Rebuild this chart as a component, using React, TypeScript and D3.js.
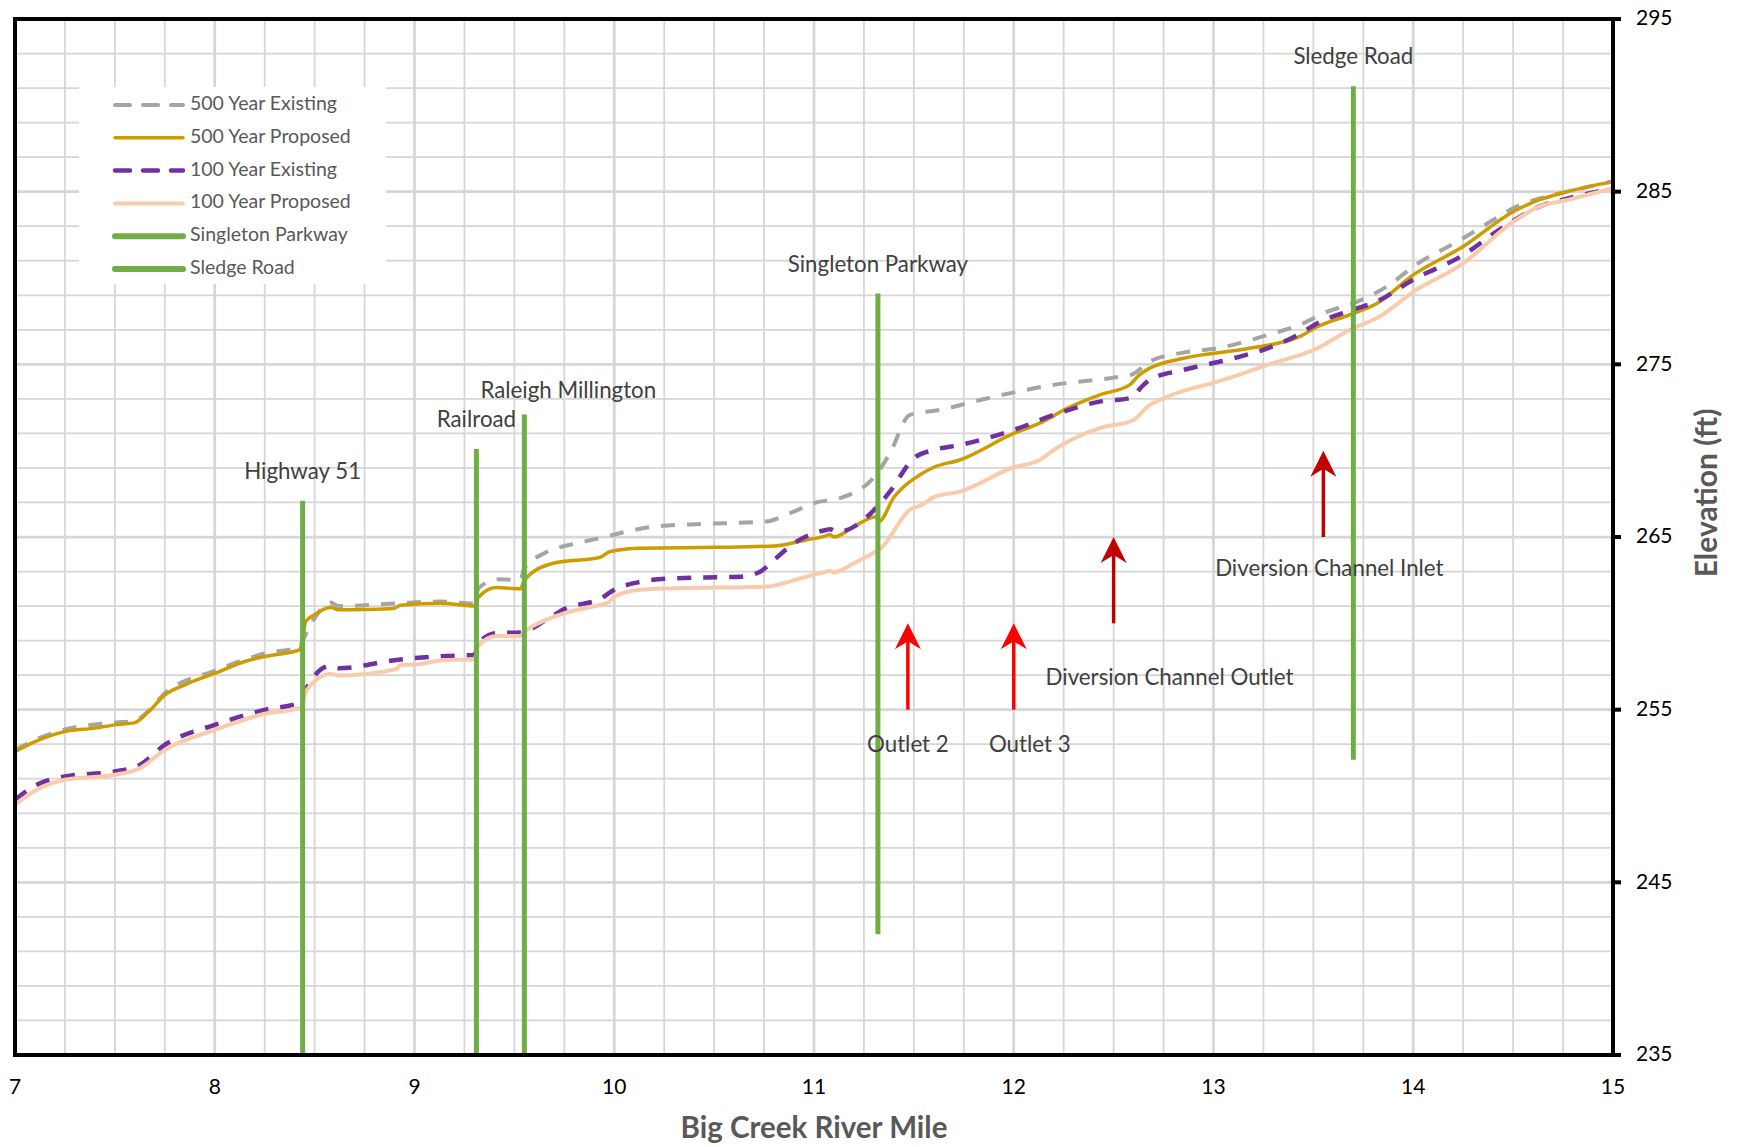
import React from "react";
import * as d3 from "d3";

// river mile vs water surface elevation (ft)
const ex500: [number, number][] = [
  [7.0, 252.65], [7.1, 253.25], [7.25, 253.85], [7.5, 254.25], [7.6, 254.35], [7.67, 254.95],
  [7.75, 255.95], [8.0, 257.25], [8.25, 258.25], [8.425, 258.65], [8.44, 259.0], [8.5, 260.3],
  [8.58, 261.2], [8.62, 261.0], [8.9, 261.15], [9.13, 261.26], [9.3, 261.15], [9.32, 262.03],
  [9.42, 262.55], [9.53, 262.5], [9.55, 263.2], [9.65, 264.06], [9.795, 264.6], [9.93, 264.93],
  [10.06, 265.31], [10.2, 265.6], [10.46, 265.76], [10.76, 265.9], [10.88, 266.38], [11.01, 267.0],
  [11.13, 267.25], [11.31, 268.6], [11.38, 269.85], [11.48, 272.07], [11.63, 272.36], [11.87, 273.04],
  [12.2, 273.81], [12.48, 274.2], [12.59, 274.4], [12.68, 275.16], [12.85, 275.68], [13.02, 275.93],
  [13.27, 276.7], [13.43, 277.28], [13.57, 278.05], [13.72, 278.63], [13.88, 279.6], [14.0, 280.66],
  [14.25, 282.3], [14.4, 283.36], [14.5, 284.04], [14.63, 284.6], [14.77, 285.0], [15.0, 285.6],
];

const prop500: [number, number][] = [
  [7.0, 252.57], [7.1, 253.15], [7.25, 253.73], [7.4, 253.93], [7.5, 254.12], [7.6, 254.25],
  [7.67, 254.89], [7.75, 255.86], [7.85, 256.44], [8.0, 257.1], [8.15, 257.79], [8.25, 258.08],
  [8.35, 258.27], [8.425, 258.46], [8.44, 259.1], [8.455, 260.1], [8.5, 260.5], [8.58, 260.93],
  [8.62, 260.78], [8.75, 260.8], [8.9, 260.88], [8.93, 261.05], [9.13, 261.17], [9.3, 261.0],
  [9.32, 261.5], [9.41, 262.07], [9.53, 262.0], [9.55, 262.5], [9.695, 263.48], [9.93, 263.83],
  [9.98, 264.16], [10.13, 264.35], [10.5, 264.4], [10.8, 264.48], [10.96, 264.83], [11.06, 265.06],
  [11.08, 265.15], [11.1, 265.0], [11.2, 265.6], [11.31, 266.18], [11.325, 265.9], [11.4, 267.3],
  [11.48, 268.21], [11.53, 268.6], [11.6, 269.04], [11.73, 269.46], [12.0, 271.0], [12.13, 271.59],
  [12.27, 272.46], [12.43, 273.23], [12.58, 273.81], [12.63, 274.4], [12.68, 274.77], [12.85, 275.35],
  [13.18, 275.93], [13.43, 276.6], [13.52, 277.18], [13.68, 277.86], [13.82, 278.54], [14.0, 280.18],
  [14.25, 281.82], [14.5, 283.84], [14.63, 284.52], [14.77, 285.0], [15.0, 285.58],
];

const ex100: [number, number][] = [
  [7.0, 249.78], [7.1, 250.6], [7.25, 251.13], [7.5, 251.42], [7.625, 251.8], [7.75, 252.96],
  [8.0, 254.12], [8.25, 254.99], [8.425, 255.41], [8.44, 255.6], [8.455, 256.15], [8.58, 257.54],
  [8.62, 257.4], [8.91, 257.88], [9.13, 258.1], [9.3, 258.17], [9.32, 258.85], [9.41, 259.43],
  [9.53, 259.47], [9.66, 260.2], [9.76, 260.88], [9.93, 261.42], [10.0, 261.94], [10.13, 262.4],
  [10.3, 262.61], [10.63, 262.7], [10.73, 262.99], [10.8, 263.67], [10.9, 264.64], [11.06, 265.41],
  [11.08, 265.45], [11.12, 265.3], [11.31, 266.67], [11.38, 267.63], [11.5, 269.56], [11.6, 270.04],
  [11.73, 270.33], [12.0, 271.2], [12.2, 272.07], [12.43, 272.84], [12.58, 273.04], [12.65, 273.81],
  [12.68, 274.1], [12.85, 274.68], [13.1, 275.35], [13.27, 275.93], [13.43, 276.75], [13.52, 277.38],
  [13.68, 278.1], [13.82, 278.65], [14.0, 279.9], [14.25, 281.33], [14.43, 282.78], [14.63, 284.13],
  [14.77, 284.6], [15.0, 285.2],
];

const prop100: [number, number][] = [
  [7.0, 249.49], [7.1, 250.3], [7.25, 250.94], [7.5, 251.23], [7.625, 251.61], [7.75, 252.67],
  [8.0, 253.83], [8.25, 254.76], [8.425, 255.09], [8.44, 255.3], [8.455, 256.05], [8.58, 257.07],
  [8.62, 256.98], [8.91, 257.35], [8.93, 257.6], [9.0, 257.6], [9.13, 257.85], [9.3, 257.92],
  [9.32, 258.7], [9.41, 259.27], [9.53, 259.27], [9.55, 259.5], [9.66, 260.2], [9.76, 260.62],
  [9.93, 261.07], [9.97, 261.2], [10.0, 261.55], [10.13, 261.94], [10.3, 262.03], [10.76, 262.13],
  [10.96, 262.7], [11.06, 262.99], [11.08, 263.05], [11.1, 262.95], [11.2, 263.48], [11.31, 264.16],
  [11.33, 264.3], [11.48, 266.57], [11.54, 266.86], [11.6, 267.31], [11.73, 267.63], [12.0, 269.04],
  [12.13, 269.46], [12.2, 270.04], [12.43, 271.3], [12.6, 271.78], [12.67, 272.55], [12.77, 273.13],
  [13.02, 274.0], [13.1, 274.29], [13.27, 274.97], [13.52, 275.93], [13.68, 276.99], [13.83, 277.76],
  [14.0, 279.2], [14.25, 280.85], [14.5, 283.26], [14.63, 284.13], [14.77, 284.52], [15.0, 285.2],
];

// crossings: mile, bottom and top of the marker line
const crossings = [
  { name: "Highway 51", mile: 8.44, lo: 235, hi: 267.1 },
  { name: "Railroad", mile: 9.31, lo: 235, hi: 270.1 },
  { name: "Raleigh Millington", mile: 9.55, lo: 235, hi: 272.1 },
  { name: "Singleton Parkway", mile: 11.32, lo: 242.0, hi: 279.1 },
  { name: "Sledge Road", mile: 13.7, lo: 252.1, hi: 291.1 },
];

const arrows = [
  { mile: 11.47, lo: 255, hi: 260, color: "#FF0000" },
  { mile: 12.0, lo: 255, hi: 260, color: "#FF0000" },
  { mile: 12.5, lo: 260, hi: 265, color: "#C00000" },
  { mile: 13.55, lo: 265, hi: 270, color: "#C00000" },
];

const notes = [
  { text: "Highway 51", mile: 8.44, elev: 268.7 },
  { text: "Railroad", mile: 9.31, elev: 271.7 },
  { text: "Raleigh Millington", mile: 9.77, elev: 273.4 },
  { text: "Singleton Parkway", mile: 11.32, elev: 280.7 },
  { text: "Sledge Road", mile: 13.7, elev: 292.7 },
  { text: "Outlet 2", mile: 11.47, elev: 252.85 },
  { text: "Outlet 3", mile: 12.08, elev: 252.85 },
  { text: "Diversion Channel Outlet", mile: 12.78, elev: 256.75 },
  { text: "Diversion Channel Inlet", mile: 13.58, elev: 263.05 },
];

const xTicks = [7, 8, 9, 10, 11, 12, 13, 14, 15];
const yTicks = [235, 245, 255, 265, 275, 285, 295];

const series = [
  { name: "500 Year Existing", data: ex500, color: "#A5A5A5", width: 4, dash: "14 12" },
  { name: "500 Year Proposed", data: prop500, color: "#CC9C00", width: 3.5, dash: "" },
  { name: "100 Year Existing", data: ex100, color: "#7030A0", width: 4.5, dash: "14 12" },
  { name: "100 Year Proposed", data: prop100, color: "#F8CBAD", width: 4, dash: "" },
];

const FONT = "Lato, 'Open Sans', sans-serif";
const GREEN = "#70AD47";

export default function App() {
  const x = d3.scaleLinear().domain([7, 15]).range([15, 1613]);
  const y = d3.scaleLinear().domain([235, 295]).range([1055, 19]);
  const line = d3
    .line<[number, number]>()
    .x((d) => x(d[0]))
    .y((d) => y(d[1]))
    .curve(d3.curveMonotoneX);

  const vGrid = d3.range(7, 15.001, 0.25);
  const hGrid = d3.range(235, 295.001, 2);

  const legendRows = [
    ...series.map((s) => ({ name: s.name, color: s.color, width: s.width, dash: s.dash })),
    { name: "Singleton Parkway", color: GREEN, width: 6, dash: "" },
    { name: "Sledge Road", color: GREEN, width: 6, dash: "" },
  ];

  return (
    <svg
      width={1739}
      height={1147}
      style={{ position: "absolute", left: 0, top: 0, background: "#fff" }}
      fontFamily={FONT}
    >
      {/* grid */}
      <g stroke="#D6D6D6">
        {vGrid.map((v) => (
          <line key={"v" + v} x1={x(v)} x2={x(v)} y1={y(295)} y2={y(235)}
            strokeWidth={Math.abs(v - Math.round(v)) < 1e-6 ? 2.75 : 1.75} />
        ))}
        {hGrid.map((v) => (
          <line key={"h" + v} x1={x(7)} x2={x(15)} y1={y(v)} y2={y(v)}
            strokeWidth={(v - 235) % 10 === 0 ? 2.75 : 1.75} />
        ))}
      </g>

      {/* legend box */}
      <rect x={79} y={87} width={307} height={197} fill="#fff" />
      {legendRows.map((r, i) => {
        const ly = 105 + i * 32.8;
        return (
          <g key={r.name + i}>
            <line x1={115} x2={183} y1={ly} y2={ly} stroke={r.color} strokeWidth={r.width}
              strokeDasharray={r.dash ? "15 13" : undefined} strokeLinecap="round" />
            <text x={190} y={ly} dominantBaseline="middle" fontSize={19.5} fill="#595959">{r.name}</text>
          </g>
        );
      })}

      {/* profiles */}
      {series.map((s) => (
        <path key={s.name} d={line(s.data) || ""} fill="none" stroke={s.color} strokeWidth={s.width}
          strokeDasharray={s.dash || undefined} strokeLinejoin="round" />
      ))}

      {/* crossings */}
      {crossings.map((c) => (
        <line key={c.name} x1={x(c.mile)} x2={x(c.mile)} y1={y(c.lo)} y2={y(c.hi)}
          stroke={GREEN} strokeWidth={5} />
      ))}

      {/* arrows */}
      {arrows.map((a, i) => {
        const ax = x(a.mile);
        const tip = y(a.hi);
        return (
          <g key={"a" + i} fill={a.color} stroke={a.color}>
            <line x1={ax} x2={ax} y1={y(a.lo)} y2={tip + 16} strokeWidth={3.5} />
            <path d={`M${ax},${tip} L${ax - 13},${tip + 26} L${ax},${tip + 18} L${ax + 13},${tip + 26} Z`} stroke="none" />
          </g>
        );
      })}

      {/* annotations */}
      {notes.map((n) => (
        <text key={n.text} x={x(n.mile)} y={y(n.elev)} textAnchor="middle" dominantBaseline="middle"
          fontSize={22.3} fill="#404040">{n.text}</text>
      ))}

      {/* frame */}
      <rect x={x(7)} y={y(295)} width={x(15) - x(7)} height={y(235) - y(295)} fill="none"
        stroke="#000" strokeWidth={4} />
      {yTicks.map((t) => (
        <line key={"yt" + t} x1={x(15)} x2={x(15) + 8} y1={y(t)} y2={y(t)} stroke="#000" strokeWidth={4} />
      ))}

      {/* tick labels */}
      {xTicks.map((t) => (
        <text key={"xl" + t} x={x(t)} y={1089} textAnchor="middle" dominantBaseline="middle"
          fontSize={21} fill="#000">{t}</text>
      ))}
      {yTicks.map((t) => (
        <text key={"yl" + t} x={1636} y={y(t) + 1} dominantBaseline="middle" fontSize={21} fill="#000">{t}</text>
      ))}

      {/* axis titles */}
      <text x={814} y={1138} textAnchor="middle" fontSize={29.5} fontWeight="bold" fill="#595959">
        Big Creek River Mile
      </text>
      <text transform="translate(1709,493) rotate(-90)" textAnchor="middle" dominantBaseline="middle"
        fontSize={30} fontWeight="bold" fill="#595959">
        Elevation (ft)
      </text>
    </svg>
  );
}
